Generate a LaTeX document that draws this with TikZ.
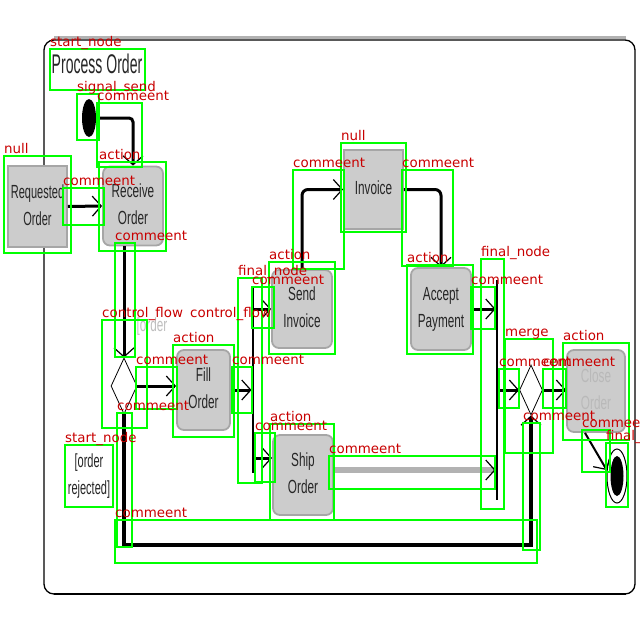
\documentclass[tikz,border=0pt]{standalone}
\usepackage{graphicx}
\usepackage{fontspec}
\setmainfont{Liberation Sans}
\newfontfamily\tagfont{DejaVu Sans}
\usetikzlibrary{arrows.meta,shapes.geometric}
\definecolor{boxgreen}{RGB}{0,255,0}
\definecolor{tagred}{RGB}{200,0,0}
\newcommand{\squeeze}[2][0.62]{\scalebox{#1}[1]{\begin{tabular}{@{}c@{}}#2\end{tabular}}}

\begin{document}
\begin{tikzpicture}[x=1pt,y=-1pt,
    act/.style={draw=gray!70,line width=1.8pt,fill=gray!40,rounded corners=7pt,inner sep=0pt,
      text=gray!30!black,font=\fontsize{19}{27}\selectfont},
    obj/.style={act,sharp corners},
    ctrl/.style={diamond,draw,fill=white,line width=0.8pt,inner sep=0pt},
    bar/.style={fill=black,inner sep=0pt,minimum width=2.5pt},
    flow/.style={line width=3pt,-{Straight Barb[length=9pt,width=20pt,line width=1.2pt,color=black]}},
    gbox/.style={draw=boxgreen,line width=2.2pt},
    tag/.style={anchor=base west,inner sep=0pt,text=tagred,font=\tagfont\fontsize{13.4}{14}\selectfont}]
    \useasboundingbox (0,0) rectangle (640,640);
    \clip (0,0) rectangle (640,640);

    % Frame and title
    \draw[line width=1.3pt,rounded corners=10pt] (44,40) rectangle (635,594);
    \draw[gray!60,line width=3pt] (54,37) -- (626,37);
    \draw[line width=2.5pt] (54,594) -- (626,594);
    \node[text=gray!30!black,font=\fontsize{27}{27}\selectfont] (title) at (97,68) {\squeeze[0.52]{Process Order}};

    % Nodes
    \node[ellipse,fill=black,inner sep=0pt,minimum width=14pt,minimum height=38pt] (init) at (89,118) {};
    \node[obj,minimum width=59pt,minimum height=81pt] (req) at (37.5,206.5) {\squeeze[0.58]{Requested\\Order}};
    \node[act,minimum width=60pt,minimum height=79pt] (recv) at (133,206) {\squeeze{Receive\\Order}};
    \node[ctrl,minimum width=26pt,minimum height=56pt] (dec) at (124,386) {};
    \node[text=gray!50,font=\fontsize{19}{27}\selectfont] (guard) at (152,326) {\squeeze{[order}};
    \node[act,minimum width=53pt,minimum height=80pt] (fill) at (203.5,390) {\squeeze{Fill\\Order}};
    \node[bar,minimum height=185pt] (fork) at (253,380.5) {};
    \node[act,minimum width=60pt,minimum height=78pt] (send) at (302,309) {\squeeze{Send\\Invoice}};
    \node[act,minimum width=60pt,minimum height=80pt] (ship) at (303,475) {\squeeze{Ship\\Order}};
    \node[obj,minimum width=59pt,minimum height=79pt] (inv) at (373.5,189.5) {\squeeze{Invoice}};
    \node[act,minimum width=60pt,minimum height=82pt] (accept) at (441,309) {\squeeze{Accept\\Payment}};
    \node[bar,minimum height=220pt] (join) at (497,390) {};
    \node[ctrl,minimum width=23pt,minimum height=50pt] (merge) at (531,390) {};
    \node[act,minimum width=58pt,minimum height=82pt,text=gray!55] (close) at (596,391) {\squeeze{Close\\Order}};
    \node[ellipse,draw,fill=white,line width=1pt,inner sep=0pt,minimum width=20pt,minimum height=54pt] (final) at (617,476) {};
    \node[ellipse,fill=black,inner sep=0pt,minimum width=13pt,minimum height=40pt] (finaldot) at (final) {};
    \node[text=gray!30!black,font=\fontsize{19}{27}\selectfont] (reject) at (89,476) {\squeeze[0.58]{[order\\rejected]}};

    % Flows
    \coordinate (shipin) at ([yshift=17pt]ship.west);
    \coordinate (shipout) at ([yshift=5pt]ship.east);
    \coordinate (low) at (124,545);
    \draw[flow,rounded corners=4pt] (init.east) -| (recv.north);
    \draw[flow] (req.east) -- (recv.west);
    \draw[flow] (dec.north |- recv.south) -- (dec.north);
    \draw[flow] (dec.east) -- (dec.east -| fill.west);
    \draw[flow] (fill.east) -- (fill.east -| fork.west);
    \draw[flow] (send.west -| fork.east) -- (send.west);
    \draw[flow] (shipin -| fork.east) -- (shipin);
    \draw[flow,rounded corners=6pt] (send.north) |- (inv.west);
    \draw[flow,rounded corners=6pt] (inv.east) -| (accept.north);
    \draw[flow] (accept.east) -- (accept.east -| join.west);
    \draw[flow,draw=gray!60,line width=6pt] (shipout) -- (shipout -| join.west);
    \draw[flow] (merge.west -| join.east) -- (merge.west);
    \draw[flow] (merge.east) -- (merge.east -| close.west);
    \draw[flow,line width=2pt] ([xshift=-11pt]close.south) -- (final.150);
    \draw[flow,line width=3.5pt] (dec.south) -- (low) -| (merge.south);

    % Detection boxes and tags
    \def\boxlist{50/49/145/90/start\_node, 77/94/99/140/signal\_send, 97/103/142/167/commeent,
      4/156/71/253/null, 99/162/166/251/action, 63/188/104/225/commeent,
      115/243/135/357/commeent, 102/320/147/428/control\_flow, 341/143/406/232/null,
      293/170/344/269/commeent, 402/170/453/266/commeent, 269/262/335/354/action,
      407/265/473/354/action, 238/278/262/483/final\_node, 252/287/274/328/commeent,
      481/259/504/509/final\_node, 471/287/495/329/commeent, 173/345/234/437/action,
      136/367/177/409/commeent, 232/367/252/413/commeent, 505/339/553/453/merge,
      563/343/629/440/action, 499/369/519/408/commeent, 543/369/566/408/commeent,
      117/413/132/547/commeent, 270/424/334/520/action, 255/433/275/482/commeent,
      523/423/540/550/commeent, 582/430/610/472/commeent, 606/443/628/507/final\_node,
      65/445/113/507/start\_node, 329/456/495/489/commeent, 115/520/537/563/commeent}
    \foreach \xa/\ya/\xb/\yb/\lbl in \boxlist
      \draw[gbox] (\xa,\ya) rectangle (\xb,\yb);
    \foreach \xa/\ya/\xb/\yb/\lbl [count=\i] in \boxlist
      \node[tag] (tag\i) at (\xa,\ya-3) {\lbl};
    \node[tag] (tagcf) at (190,317) {control\_flow};
\end{tikzpicture}
\end{document}
